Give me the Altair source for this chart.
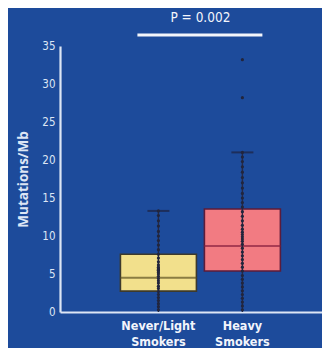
import altair as alt
import pandas as pd

# ---- data ----
groups = ["Never/Light Smokers", "Heavy Smokers"]
q1 = [2.75, 5.4]
median = [4.5, 8.7]
q3 = [7.6, 13.55]
whisker_lo = [0.0, 0.0]
whisker_hi = [13.3, 21.0]

never_points = [0.3, 0.7, 1.1, 1.5, 1.9, 2.3, 2.7, 3.1, 3.4, 3.8, 4.1, 4.4, 4.7,
                5.0, 5.2, 5.4, 5.5, 5.6, 5.7, 5.9, 6.2, 6.6, 7.1, 7.6, 8.2, 8.8,
                9.4, 10.0, 10.6, 11.3, 12.0, 12.7, 13.3]
heavy_points = [0.3, 0.8, 1.3, 1.8, 2.3, 2.8, 3.3, 3.8, 4.3, 4.8, 5.4, 5.9, 6.4,
                6.9, 7.4, 7.9, 8.4, 8.9, 9.3, 9.6, 9.9, 10.2, 10.5, 10.9, 11.4,
                12.0, 12.6, 13.2, 13.8, 14.4, 15.0, 15.6, 16.3, 17.0, 17.7, 18.4,
                19.1, 19.8, 20.4, 21.0, 28.2, 33.2]

y_ticks = [0, 5, 10, 15, 20, 25, 30, 35]
p_label = "P = 0.002"
p_line_y = 36.45
p_text_y = 38.7

box_fill = ["#f2e08c", "#f27b82"]
box_stroke = ["#3d3a2c", "#5c1c3a"]
median_color = ["#5e5222", "#8c2240"]

BG = "#1d4b9b"
FG = "#dde6f5"
FONT = "DejaVu Sans Condensed, DejaVu Sans"

summary = pd.DataFrame({
    "group": groups, "q1": q1, "median": median, "q3": q3,
    "lo": whisker_lo, "hi": whisker_hi,
})
points = pd.DataFrame({
    "group": [groups[0]] * len(never_points) + [groups[1]] * len(heavy_points),
    "value": never_points + heavy_points,
})
annot = pd.DataFrame({"a": [groups[0]], "b": [groups[1]], "y": [p_line_y],
                      "ty": [p_text_y], "label": [p_label]})

xscale = alt.Scale(domain=groups, paddingInner=0, paddingOuter=0.56, align=0.6)
yscale = alt.Scale(domain=[0, 35], nice=False)

x_axis = alt.Axis(title=None, labelAngle=0, ticks=False,
                  labelExpr="split(datum.label, ' ')",
                  labelLineHeight=16, labelPadding=7,
                  labelFontSize=12.5, labelFontWeight="bold",
                  labelColor="#f2f5fb", labelFont=FONT,
                  domainColor=FG, domainWidth=2.2)
y_axis = alt.Axis(title="Mutations/Mb", values=y_ticks, tickCount=8, ticks=False,
                  grid=False, labelOverlap=False,
                  labelPadding=5, labelFontSize=11.5, labelColor=FG, labelFont=FONT,
                  domainColor=FG, domainWidth=2.2,
                  titleFont="Open Sans", titleFontSize=13.5, titleFontWeight="bold",
                  titleColor=FG, titlePadding=11)


def X(field):
    return alt.X(field, scale=xscale, sort=groups, axis=x_axis)


def Y(field):
    return alt.Y(field, scale=yscale, axis=y_axis)


fill = alt.Color("group:N", scale=alt.Scale(domain=groups, range=box_fill), legend=None)
stroke = alt.Stroke("group:N", scale=alt.Scale(domain=groups, range=box_stroke), legend=None)

base = alt.Chart(summary)

boxes = base.mark_bar(size=76, strokeWidth=1.6, opacity=1).encode(
    x=X("group:N"), y=Y("q1:Q"), y2="q3:Q", color=fill, stroke=stroke)

med = base.mark_tick(size=76, thickness=2).encode(
    x=X("group:N"), y=Y("median:Q"),
    color=alt.Color("group:N", scale=alt.Scale(domain=groups, range=median_color), legend=None))

whisk = base.mark_rule(color="#262a48", strokeWidth=1.4).encode(
    x=X("group:N"), y=Y("lo:Q"), y2="hi:Q")

caps = base.mark_tick(size=22, thickness=2, color="#1e2240").encode(
    x=X("group:N"), y=Y("hi:Q"))

dots = alt.Chart(points).mark_circle(size=10, color="#22253c", opacity=1).encode(
    x=X("group:N"), y=Y("value:Q"))

prule = alt.Chart(annot).mark_rule(color="#f4f6fb", strokeWidth=3,
                                   xOffset=-21, x2Offset=20).encode(
    x=X("a:N"), x2="b:N", y=Y("y:Q"))

ptext = alt.Chart(annot).mark_text(color="#f4f6fb", fontSize=13.5, font=FONT,
                                   xOffset=42).encode(
    x=X("a:N"), y=Y("ty:Q"), text="label:N")

chart = alt.layer(boxes, med, whisk, caps, dots, prule, ptext).resolve_scale(
    color="independent"
).properties(
    width=262, height=266,
    autosize=alt.AutoSizeParams(type="none"),
    padding={"left": 52, "top": 38, "right": 0, "bottom": 36},
    background=BG,
).configure_view(stroke=None)

chart.save("out.html", embed_options={"renderer": "svg", "actions": False})
